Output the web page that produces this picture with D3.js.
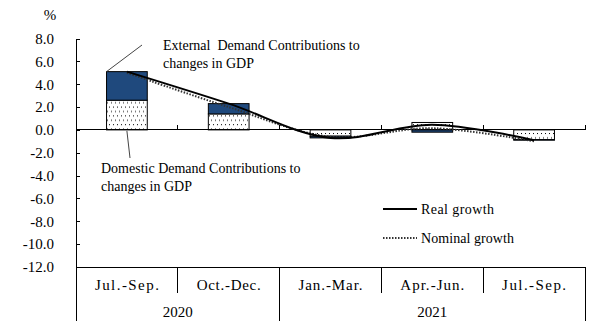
<!DOCTYPE html>
<html>
<head>
<meta charset="utf-8">
<script src="https://cdn.jsdelivr.net/npm/d3@7"></script>
<style>
  body { margin: 0; background: #fff; }
  svg { display: block; }
  text { font-family: "Liberation Serif", "DejaVu Serif", serif; fill: #000; }
  .tick line, .domain { stroke: #000; shape-rendering: crispEdges; }
  .frame { stroke: #000; stroke-width: 1; shape-rendering: crispEdges; }
</style>
</head>
<body>
<div id="chart"></div>
<script>
//Chart data
const quarters = ["Jul.-Sep.", "Oct.-Dec.", "Jan.-Mar.", "Apr.-Jun.", "Jul.-Sep."];
const years = [["2020", 2], ["2021", 3]]; //label, number of quarters
const domestic = [2.6, 1.4, -0.55, 0.65, -0.85];
const external = [2.5, 0.9, -0.15, -0.2, -0.05];
const realGrowth = [5.1, 2.3, -0.7, 0.45, -0.9];
const nominalGrowth = [5.0, 2.0, -0.6, 0.15, -1.0];
const yTicks = [8, 6, 4, 2, 0, -2, -4, -6, -8, -10, -12];

const width = 605;
const height = 332;
const plotLeft = 76, plotRight = 585;
const plotTop = 38.5, plotBottom = 267;

const svg = d3.select("#chart")
    .append("svg")
    .attr("width", width)
    .attr("height", height);

//dotted fill for the domestic part of the bars
const pattern = svg.append("defs")
    .append("pattern")
    .attr("id", "dots")
    .attr("patternUnits", "userSpaceOnUse")
    .attr("width", 8)
    .attr("height", 8.8);
pattern.append("rect").attr("width", 8).attr("height", 8.8).attr("fill", "#fff");
[[1, 1], [5, 1], [3, 5.4], [7, 5.4]].forEach(p => {
    pattern.append("rect")
        .attr("x", p[0]).attr("y", p[1])
        .attr("width", 1).attr("height", 1)
        .attr("fill", "#000");
});

//Scales
const x = d3.scaleBand()
    .domain(d3.range(quarters.length))
    .range([plotLeft, plotRight]);

const y = d3.scaleLinear()
    .domain([-12, 8])
    .range([plotBottom, plotTop]);

//Stacked bars, domestic next to zero and external beyond it
const rows = quarters.map((q, i) => ({i: i, domestic: domestic[i], external: external[i]}));
const series = d3.stack()
    .keys(["domestic", "external"])
    .offset(d3.stackOffsetDiverging)(rows);

const barW = x.bandwidth() * 0.4;
const fills = {domestic: "url(#dots)", external: "#1f497d"};

svg.append("g")
    .selectAll("g")
    .data(series)
    .enter()
    .append("g")
    .attr("fill", d => fills[d.key])
    .selectAll("rect")
    .data(d => d)
    .enter()
    .append("rect")
    .attr("x", d => x(d.data.i) + (x.bandwidth() - barW) / 2)
    .attr("y", d => y(Math.max(d[0], d[1])))
    .attr("width", barW)
    .attr("height", d => Math.abs(y(d[0]) - y(d[1])))
    .attr("stroke", "#000")
    .attr("stroke-width", 1);

//Left axis, ticks pointing inward
svg.append("g")
    .attr("transform", "translate(" + plotLeft + ",0)")
    .call(d3.axisLeft(y)
        .tickValues(yTicks)
        .tickSize(-4)
        .tickSizeOuter(0)
        .tickPadding(22)
        .tickFormat(d3.format(".1f")))
    .call(g => g.selectAll("text")
        .style("font-size", "15px")
        .style("font-family", "'Liberation Serif', serif")
        .text(d => d3.format(".1f")(d).replace("−", "-")));

svg.append("text")
    .attr("x", 50)
    .attr("y", 20)
    .attr("text-anchor", "middle")
    .style("font-size", "15px")
    .text("%");

//Zero line with upward ticks at quarter boundaries
const edges = x.domain().slice(1).map(d => x(d)).concat([plotRight]);
svg.append("line")
    .attr("class", "frame")
    .attr("x1", plotLeft).attr("x2", plotRight)
    .attr("y1", y(0)).attr("y2", y(0));
svg.selectAll(".zeroTick")
    .data(edges)
    .enter()
    .append("line")
    .attr("class", "frame")
    .attr("x1", d => d).attr("x2", d => d)
    .attr("y1", y(0)).attr("y2", y(0) - 5);

//Category table under the plot
svg.append("line")
    .attr("class", "frame")
    .attr("x1", plotLeft).attr("x2", plotRight)
    .attr("y1", plotBottom).attr("y2", plotBottom);

const yearBounds = [];
let start = 0;
years.forEach(yr => {
    yearBounds.push({label: yr[0], x0: x(start), x1: x(start + yr[1] - 1) + x.bandwidth()});
    start += yr[1];
});

//year separators run the full depth of the table
const yearEdges = [plotLeft].concat(yearBounds.map(d => d.x1));
svg.selectAll(".yearEdge")
    .data(yearEdges)
    .enter()
    .append("line")
    .attr("class", "frame")
    .attr("x1", d => d).attr("x2", d => d)
    .attr("y1", plotBottom).attr("y2", 321);

//quarter separators only cover the first row
svg.selectAll(".qEdge")
    .data(x.domain().slice(1).map(d => x(d)).filter(v => yearEdges.indexOf(v) < 0))
    .enter()
    .append("line")
    .attr("class", "frame")
    .attr("x1", d => d).attr("x2", d => d)
    .attr("y1", plotBottom).attr("y2", 293);

svg.selectAll(".qLabel")
    .data(quarters)
    .enter()
    .append("text")
    .attr("x", (d, i) => x(i) + x.bandwidth() / 2)
    .attr("y", 290)
    .attr("text-anchor", "middle")
    .attr("textLength", 64)
    .attr("lengthAdjust", "spacing")
    .style("font-size", "15px")
    .text(d => d);

svg.selectAll(".yLabel")
    .data(yearBounds)
    .enter()
    .append("text")
    .attr("x", d => (d.x0 + d.x1) / 2)
    .attr("y", 317)
    .attr("text-anchor", "middle")
    .style("font-size", "15px")
    .text(d => d.label);

//Growth lines
const lineGen = d3.line()
    .x((d, i) => x(i) + x.bandwidth() / 2)
    .y(d => y(d))
    .curve(d3.curveCatmullRom.alpha(0.5));

svg.append("path")
    .datum(nominalGrowth)
    .attr("d", lineGen)
    .attr("fill", "none")
    .attr("stroke", "#333")
    .attr("stroke-width", 2)
    .attr("stroke-dasharray", "1.5,1.5");

svg.append("path")
    .datum(realGrowth)
    .attr("d", lineGen)
    .attr("fill", "none")
    .attr("stroke", "#000")
    .attr("stroke-width", 2);

//Annotations with leader lines
svg.append("line")
    .attr("x1", x(0) + (x.bandwidth() - barW) / 2).attr("y1", y(domestic[0] + external[0]))
    .attr("x2", 142).attr("y2", 45)
    .attr("stroke", "#444");

svg.append("line")
    .attr("x1", x(0) + x.bandwidth() / 2).attr("y1", y(0) + 1)
    .attr("x2", 130).attr("y2", 158)
    .attr("stroke", "#444");

const note = (lines, x0, y0) => {
    lines.forEach((t, k) => {
        svg.append("text")
            .attr("x", x0)
            .attr("y", y0 + k * 18)
            .style("font-size", "14px")
            .style("white-space", "pre")
            .text(t);
    });
};
note(["External  Demand Contributions to", "changes in GDP"], 163, 50);
note(["Domestic Demand Contributions to", "changes in GDP"], 101, 173);

//Legend
const legend = [
    {label: "Real growth", y: 209, dash: null, color: "#000", len: 73},
    {label: "Nominal growth", y: 238, dash: "1.5,1.5", color: "#333", len: 93}
];
legend.forEach(d => {
    svg.append("line")
        .attr("x1", 383).attr("x2", 417)
        .attr("y1", d.y).attr("y2", d.y)
        .attr("stroke", d.color)
        .attr("stroke-width", 2)
        .attr("stroke-dasharray", d.dash);
    svg.append("text")
        .attr("x", 421)
        .attr("y", d.y + 5)
        .attr("textLength", d.len)
        .attr("lengthAdjust", "spacing")
        .style("font-size", "14px")
        .text(d.label);
});
</script>
</body>
</html>
